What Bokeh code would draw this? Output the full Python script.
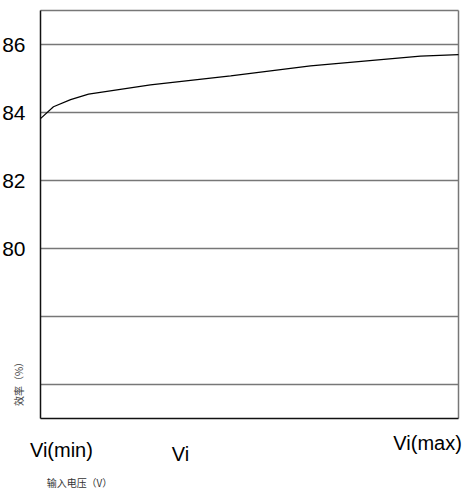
import math
from bokeh.plotting import figure
from bokeh.models import Range1d
from bokeh.core.properties import value
from bokeh.embed import file_html
from bokeh.resources import INLINE

# ---- data (input voltage as fraction of its range, efficiency in %) ----
vi = [0.0, 0.031, 0.072, 0.115, 0.263, 0.455, 0.646, 0.909, 1.0]
efficiency = [83.82, 84.17, 84.38, 84.54, 84.81, 85.08, 85.37, 85.66, 85.70]

y_tick_values = [80, 82, 84, 86]
y_tick_labels = ["80", "82", "84", "86"]
y_grid_values = [76, 78, 80, 82, 84, 86]
x_tick_positions = [0.05, 0.335, 0.926]
x_tick_labels = ["Vi(min)", "Vi", "Vi(max)"]
y_axis_title = "效率（%）"
x_axis_title = "输入电压（V）"

# ---- layout (pixels of the 464x491 page) ----
W, H = 464, 491
box_left, box_right, box_top, box_bottom = 40, 458, 10, 418
x_min, x_max = 0.0, 1.0
y_min, y_max = 75.0, 87.0

def px_x(px):
    return x_min + (px - box_left) * (x_max - x_min) / (box_right - box_left)

def px_y(py):
    return y_max - (py - box_top) * (y_max - y_min) / (box_bottom - box_top)

p = figure(width=W, height=H, output_backend="svg", toolbar_location=None,
           x_range=Range1d(px_x(0), px_x(W)), y_range=Range1d(px_y(H), px_y(0)),
           x_axis_location=None, y_axis_location=None,
           min_border=0, min_border_left=0, min_border_right=0,
           min_border_top=0, min_border_bottom=0)
p.outline_line_color = None
p.grid.visible = False
p.background_fill_color = "white"
p.border_fill_color = "white"

# grid lines
p.segment(x0=[x_min] * len(y_grid_values), x1=[x_max] * len(y_grid_values),
          y0=y_grid_values, y1=y_grid_values, line_color="#777777", line_width=1.5)
# frame: top and right grey, left and bottom dark
p.segment(x0=[x_min, x_max], x1=[x_max, x_max], y0=[y_max, y_max], y1=[y_max, y_min],
          line_color="#777777", line_width=1.5)
p.segment(x0=[x_min, x_min], x1=[x_min, x_max], y0=[y_max, y_min], y1=[y_min, y_min],
          line_color="#111111", line_width=1.5)

# efficiency curve
p.line(vi, efficiency, line_color="black", line_width=1.2)

# y tick labels
p.text(x=[x_min] * len(y_tick_values), y=y_tick_values, text=y_tick_labels,
       x_offset=-15, text_align="right", text_baseline="middle",
       text_font=value("Liberation Sans"), text_font_size="21px", text_color="black")

# x tick labels
x_label_y = [px_y(449), px_y(453), px_y(442)]
p.text(x=x_tick_positions, y=x_label_y, text=x_tick_labels,
       text_align="center", text_baseline="middle",
       text_font=value("Liberation Sans"), text_font_size="20px", text_color="black")

# axis titles
p.text(x=[px_x(18)], y=[px_y(381)], text=[y_axis_title], angle=math.pi / 2,
       text_align="center", text_baseline="middle",
       text_font=value("Noto Sans CJK SC"), text_font_size="10px", text_color="#444444")
p.text(x=[px_x(79)], y=[px_y(482)], text=[x_axis_title],
       text_align="center", text_baseline="middle",
       text_font=value("Noto Sans CJK SC"), text_font_size="10px", text_color="#333333")

open("out.html", "w").write(file_html(p, INLINE))
